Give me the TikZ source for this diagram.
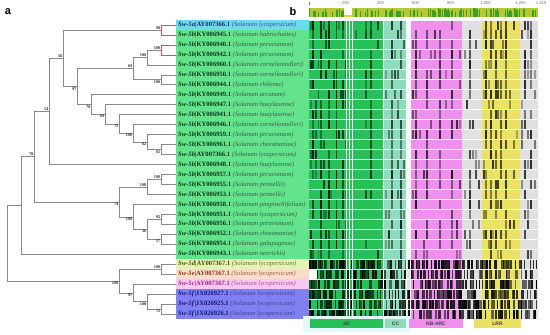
\documentclass[tikz,border=0pt]{standalone}
\usepackage{fontspec}
\setmainfont{Liberation Serif}
\setsansfont{Liberation Sans}
\usetikzlibrary{calc}

\definecolor{brgray}{HTML}{8A8A8A}
\definecolor{brpink}{HTML}{E0486E}
\definecolor{bga}{HTML}{6ED9F2}
\definecolor{bgb}{HTML}{62E38C}
\definecolor{bgd}{HTML}{E4F4B4}
\definecolor{bge}{HTML}{FBDDCB}
\definecolor{bgc}{HTML}{F8C8F2}
\definecolor{bgf}{HTML}{8080F0}
\definecolor{txa}{HTML}{0D2A55}
\definecolor{txb}{HTML}{0A3315}
\definecolor{txd}{HTML}{4C4C0A}
\definecolor{txe}{HTML}{8A3414}
\definecolor{txc}{HTML}{A8207E}
\definecolor{txf}{HTML}{12127A}
\definecolor{sdc}{HTML}{27C257}
\definecolor{ccc}{HTML}{8EDCBC}
\definecolor{nbc}{HTML}{EF8FEE}
\definecolor{grc}{HTML}{E0E0E0}
\definecolor{lrc}{HTML}{EBE163}
\definecolor{topc}{HTML}{B5C934}
\definecolor{topd}{HTML}{3F9E2A}
\definecolor{topy}{HTML}{E2D43C}
\definecolor{palec}{HTML}{E4FAFA}

\newcommand\clade[5][br]{%
  \path ($(#4)!.5!(#5)$) coordinate (#2m);
  \coordinate (#2) at (#3,0 |- #2m);
  \draw[#1] (#2) |- (#4);
  \draw[#1] (#2) |- (#5);
}
\newcommand\leaf[3]{\makebox[129pt][l]{\textbf{\textit{#1}|#2} {\color{.!80!white}\textit{(Solanum #3)}}}}

\begin{document}
\begin{tikzpicture}[x=1pt,y=-1pt,
  br/.style={draw=brgray,line width=0.7pt},
  brred/.style={draw=brpink,line width=0.8pt},
  lab/.style={anchor=west,inner xsep=2pt,inner ysep=0pt,minimum height=10pt,font=\fontsize{6.6}{7}\selectfont},
  ra/.style={fill=bga,text=txa},
  rb/.style={fill=bgb,text=txb},
  rd/.style={fill=bgd,text=txd},
  re/.style={fill=bge,text=txe},
  rc/.style={fill=bgc,text=txc},
  rf/.style={fill=bgf,text=txf},
  bsup/.style={anchor=south east,inner sep=0.5pt,font=\fontsize{4.3}{5}\selectfont\bfseries,text=black!80},
  bsdn/.style={bsup,anchor=north east},
  tk/.style={inner sep=0pt,font=\sffamily\fontsize{4.2}{4.2}\selectfont,text=black!55},
  dom/.style={minimum height=9pt,inner sep=0pt,font=\sffamily\bfseries\fontsize{5}{5}\selectfont,text=black!75}]
  \useasboundingbox (0,0) rectangle (550,335);
  \pgfmathsetseed{11}

  \node[font=\sffamily\bfseries\fontsize{11}{12}\selectfont] (pa) at (8,12) {a};
  \node[font=\sffamily\bfseries\fontsize{11}{12}\selectfont] (pb) at (293,12) {b};

  \foreach \i/\s/\g/\a/\p in {1/ra/Sw-5a/AY007366.1/lycopersicum,
      2/rb/Sw-5b/KY006945.1/habrochaites, 3/rb/Sw-5b/KY006940.1/peruvianum,
      4/rb/Sw-5b/KY006942.1/peruvianum, 5/rb/Sw-5b/KY006960.1/corneliomulleri,
      6/rb/Sw-5b/KY006950.1/corneliomulleri, 7/rb/Sw-5b/KY006944.1/chilense,
      8/rb/Sw-5b/KY006949.1/arcanum, 9/rb/Sw-5b/KY006947.1/huaylasense,
      10/rb/Sw-5b/KY006941.1/huaylasense, 11/rb/Sw-5b/KY006946.1/corneliomulleri,
      12/rb/Sw-5b/KY006959.1/peruvianum, 13/rb/Sw-5b/KY006961.1/cheesmaniae,
      14/rb/Sw-5b/AY007366.1/lycopersicum, 15/rb/Sw-5b/KY006948.1/huaylasense,
      16/rb/Sw-5b/KY006957.1/peruvianum, 17/rb/Sw-5b/KY006955.1/pennellii,
      18/rb/Sw-5b/KY006953.1/pennellii, 19/rb/Sw-5b/KY006958.1/pimpinellifolium,
      20/rb/Sw-5b/KY006951.1/lycopersicum, 21/rb/Sw-5b/KY006956.1/peruvianum,
      22/rb/Sw-5b/KY006952.1/cheesmaniae, 23/rb/Sw-5b/KY006954.1/galapagense,
      24/rb/Sw-5b/KY006943.1/neorickii, 25/rd/Sw-5d/AY007367.1/lycopersicum,
      26/re/Sw-5e/AY007367.1/lycopersicum, 27/rc/Sw-5c/AY007367.1/lycopersicum,
      28/rf/Sw-5f/JX026927.1/lycopersicum, 29/rf/Sw-5f/JX026925.1/lycopersicum,
      30/rf/Sw-5f/JX026926.1/lycopersicum}
    \node[lab,\s] (t\i) at (176,{25+9.97*(\i-1)}) {\leaf{\g}{\a}{\p}};

  \clade[brred]{nA}{161}{t1.west}{t2.west}
  \clade[brred]{nB}{161}{t3.west}{t4.west}
  \clade{nC}{147}{nB}{t5.west}
  \clade{nD}{161}{t6.west}{t7.west}
  \clade{nE}{133}{nC}{nD}
  \clade{nM}{161}{t13.west}{t14.west}
  \clade{nL}{147}{t12.west}{nM}
  \clade{nK}{133}{t11.west}{nL}
  \clade{nJ}{119}{t10.west}{nK}
  \clade{nI}{105}{t9.west}{nJ}
  \clade{nH}{91}{t8.west}{nI}
  \clade{nF}{77}{nE}{nH}
  \clade{nG}{63}{nA}{nF}
  \clade{nN}{49}{nG}{t15.west}
  \clade{nV}{161}{t16.west}{t17.west}
  \clade{nT}{147}{nV}{t18.west}
  \clade{nX}{161}{t20.west}{t21.west}
  \clade{nZ}{161}{t22.west}{t23.west}
  \clade{nY}{147}{nX}{nZ}
  \clade{nU}{133}{t19.west}{nY}
  \clade{nP}{119}{nT}{nU}
  \clade{nO}{34}{nN}{nP}
  \clade{nQ}{21}{nO}{t24.west}
  \clade{nAA}{161}{t25.west}{t26.west}
  \clade{nDD}{161}{t29.west}{t30.west}
  \clade{nCC}{147}{t28.west}{nDD}
  \clade{nBB}{133}{t27.west}{nCC}
  \clade{nS}{119}{nAA}{nBB}
  \clade{nR}{7}{nQ}{nS}

  \node[bsup] (bA) at (nA) {98};
  \node[bsup] (bB) at (nB) {100};
  \node[bsup] (bC) at (nC) {100};
  \node[bsdn] (bD) at (nD) {100};
  \node[bsup] (bE) at (nE) {69};
  \node[bsdn] (bM) at (nM) {65};
  \node[bsdn] (bL) at (nL) {62};
  \node[bsdn] (bK) at (nK) {100};
  \node[bsdn] (bJ) at (nJ) {72};
  \node[bsdn] (bI) at (nI) {69};
  \node[bsdn] (bH) at (nH) {78};
  \node[bsdn] (bF) at (nF) {97};
  \node[bsup] (bG) at (nG) {56};
  \node[bsup] (bN) at (nN) {54};
  \node[bsup] (bV) at (nV) {100};
  \node[bsup] (bT) at (nT) {100};
  \node[bsup] (bX) at (nX) {92};
  \node[bsdn] (bZ) at (nZ) {57};
  \node[bsdn] (bY) at (nY) {56};
  \node[bsdn] (bU) at (nU) {100};
  \node[bsdn] (bP) at (nP) {74};
  \node[bsup] (bO) at (nO) {78};
  \node[bsup] (bAA) at (nAA) {100};
  \node[bsdn] (bDD) at (nDD) {72};
  \node[bsdn] (bCC) at (nCC) {100};
  \node[bsdn] (bBB) at (nBB) {97};
  \node[bsdn] (bS) at (nS) {100};

  % alignment
  \foreach \rw in {1,...,30}{
    \pgfmathsetmacro\ya{25+9.97*(\rw-1)-4.5}
    \pgfmathsetmacro\yb{\ya+9}
    \fill[sdc] (309,\ya) rectangle (383,\yb);
    \fill[ccc] (383,\ya) rectangle (406,\yb);
    \fill[nbc] (410,\ya) rectangle (462,\yb);
    \fill[grc] (462,\ya) rectangle (482,\yb);
    \fill[lrc] (482,\ya) rectangle (520,\yb);
    \fill[grc] (520,\ya) rectangle (538,\yb);
  }
  \foreach \rw in {1,...,24}{
    \pgfmathsetmacro\ya{25+9.97*(\rw-1)-4.5}
    \pgfmathsetmacro\yb{\ya+9}
    \foreach \cx in {313,321,329,336.5,343,371,392,401,416,427,440,452,470,486,491,496,501,506,525,531}{
      \pgfmathsetmacro\pv{rnd}
      \ifdim\pv pt<0.7pt
        \pgfmathsetmacro\op{0.35+0.5*rnd}
        \fill[black,opacity=\op] (\cx-0.55,\ya) rectangle (\cx+0.55,\yb);
      \fi
    }
    \foreach \cx in {311,316,318.5,324,326,331,334,339,341,346,356,366,378,386,389,395,398,404,
        413,420,424,431,435,446,457,460,465,467,473,476,479,484,489,493,498,503,510,514,517,
        522,528,535}{
      \pgfmathsetmacro\pv{rnd}
      \ifdim\pv pt<0.18pt
        \pgfmathsetmacro\op{0.25+0.5*rnd}
        \fill[black,opacity=\op] (\cx-0.55,\ya) rectangle (\cx+0.55,\yb);
      \fi
    }
  }
  \foreach \rw in {25,...,30}{
    \pgfmathsetmacro\ya{25+9.97*(\rw-1)-4.5}
    \pgfmathsetmacro\yb{\ya+9}
    \fill[grc] (406,\ya) rectangle (410,\yb);
    \foreach \cx in {310,311.5,...,537}{
      \pgfmathsetmacro\pv{rnd}
      \ifdim\pv pt<0.6pt
        \pgfmathsetmacro\op{0.5+0.5*rnd}
        \fill[black,opacity=\op] (\cx-0.7,\ya) rectangle (\cx+0.7,\yb);
      \fi
    }
  }
  \fill[white] (309,{25+9.97*25-4.5}) rectangle (317,{25+9.97*25+4.5});
  \foreach \wx in {346,349.5,352,383.5,406.5,410}
    \draw[white,line width=0.5pt] (\wx,20) -- (\wx,319.5);

  % conservation bar and ruler
  \fill[topc] (309,8) rectangle (538,17);
  \foreach \cx in {309.8,311.2,...,537.5}{
    \pgfmathsetmacro\pv{rnd}
    \ifdim\pv pt<0.55pt
      \pgfmathsetmacro\hh{8+4*rnd}
      \fill[topd] (\cx-0.6,\hh) rectangle (\cx+0.6,17);
    \fi
  }
  \fill[white] (344,7.5) rectangle (352,15);
  \fill[topy] (344,15) rectangle (352,17);
  \draw[black!50,line width=0.4pt] (309.5,1.5) -- (309.5,5);
  \foreach \p/\t in {200/200,400/400,600/600,800/800,1000/{1,000},1200/{1,200},1318/{1,318}}
    \node[tk] (k\p) at ({309+0.175*\p+1.5},3.5) {\t};

  % domains
  \fill[palec] (303,316) rectangle (410,332);
  \node[dom,fill=sdc,minimum width=73pt] (dSD) at (346.5,323.5) {SD};
  \node[dom,fill=ccc,minimum width=21pt] (dCC) at (395.5,323.5) {CC};
  \node[dom,fill=nbc,minimum width=54pt] (dNB) at (436,323.5) {NB-ARC};
  \node[dom,fill=lrc,minimum width=47pt] (dLRR) at (497.5,323.5) {LRR};
\end{tikzpicture}
\end{document}
